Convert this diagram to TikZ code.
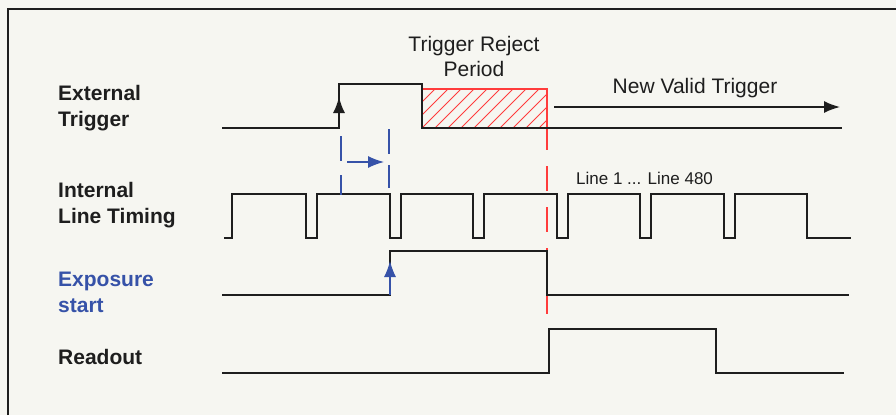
\documentclass[tikz,border=0pt]{standalone}
\usepackage{fontspec}
\setmainfont{Liberation Sans}
\usepackage{tikz}
\usetikzlibrary{arrows.meta,positioning,calc}
\definecolor{paper}{HTML}{F6F6F1}
\definecolor{sig}{HTML}{1E1E1E}
\definecolor{rejred}{HTML}{FF3C3C}
\definecolor{expblue}{HTML}{3652A8}
\tikzset{
    label/.style  = {anchor=north west, inner sep=0pt, align=left,
                     font=\fontsize{21}{26}\selectfont\bfseries, text=sig},
    note/.style   = {inner sep=0pt, align=center,
                     font=\fontsize{21}{25}\selectfont, text=sig},
    signal/.style = {draw=sig, line width=1.6pt},
    line/.style   = {draw, line width=1.6pt,
                     -{Latex[length=16pt,width=12pt]}},
    bluedash/.style = {draw=expblue, line width=1.4pt, dash pattern=on 25pt off 14pt}
}

\begin{document}
\begin{tikzpicture}[x=1pt, y=-1pt]
  \useasboundingbox (0,0) rectangle (896,415);
  \fill [paper] (0,0) rectangle (896,415);
  \draw [sig, line width=1.5pt] (8,415) |- (896,9);

  % signal names
  \node [label] (ext) at (58,85) {External\\Trigger};
  \node [label] (int) at (58,182) {Internal\\Line Timing};
  \node [label, text=expblue] (exp) at (58,272) {Exposure\\start};
  \node [label] (rd) at (58,349) {Readout};

  % reject period
  \begin{scope}
    \clip (422,89) rectangle (547,128);
    \foreach \h in {370,383,...,560}
      \draw [rejred, line width=0.8pt] (\h,128) -- (\h+39,89);
  \end{scope}
  \draw [rejred, line width=1.4pt] (422,89) -| (547,128);
  \draw [rejred, line width=1.4pt, dash pattern=on 25pt off 16pt]
    (547,125) -- (547,314);
  \node [note, anchor=north] (rej) at (474,36) {Trigger Reject\\Period};

  % waveforms
  \draw [signal] (222,128) -| (339,84) -| (422,128) -- (842,128);
  \draw [signal] (224,238) -| (232,194)
    \foreach \f in {306,390,473,557,640,724} { -| (\f,238) -| (\f+11,194) }
    -| (807,238) -- (851,238);
  \draw [signal] (222,295) -| (390,251) -| (547,295) -- (849,295);
  \draw [signal] (222,373) -| (549,329) -| (716,373) -- (844,373);

  % edges and delays
  \coordinate (trigA) at (339,118);
  \coordinate (trigB) at (339,97);
  \path [line, sig] (trigA) -- (trigB);

  \draw [bluedash] (341,136) -- (341,195);
  \draw [bluedash, dash pattern=on 25pt off 11pt] (389,129) -- (389,188);
  \coordinate (dlyA) at (347,162);
  \coordinate (dlyB) at (384,162);
  \path [line, expblue, line width=1.3pt] (dlyA) -- (dlyB);

  \coordinate (expA) at (390,295);
  \coordinate (expB) at (390,261);
  \path [line, expblue, line width=1.3pt] (expA) -- (expB);

  \coordinate (newA) at (554,107);
  \coordinate (newB) at (840,107);
  \path [line, sig] (newA) -- (newB);
  \node [note, anchor=base] (new) at (695,93) {New Valid Trigger};

  \node [note, anchor=base west, font=\fontsize{17}{20}\selectfont]
    (lines) at (576,184) {Line 1 ... Line 480};
\end{tikzpicture}
\end{document}
